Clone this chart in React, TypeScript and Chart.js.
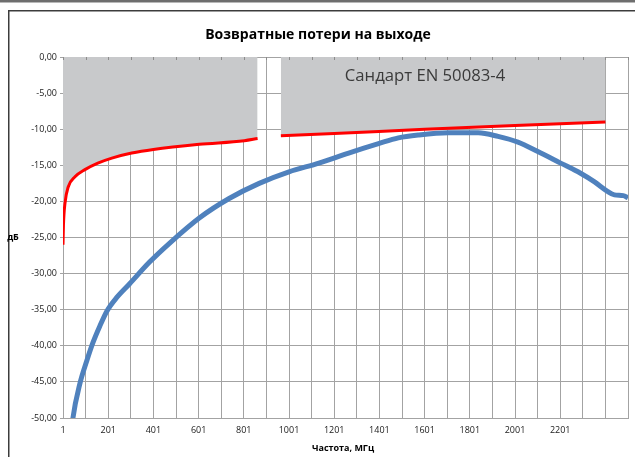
import React, { useEffect, useRef } from "react";
import { Chart, registerables } from "chart.js";

Chart.register(...registerables);

// Measured return loss (blue)
const blueX = [35, 45, 76, 107, 133, 165, 195, 239, 296, 384, 472, 604, 736, 869, 1001, 1133, 1265, 1397, 1485, 1574, 1706, 1838, 1926, 2014, 2102, 2203, 2291, 2353, 2410, 2441, 2480, 2501];
const blueY = [-53, -50, -45.2, -42, -39.6, -37.2, -35.2, -33.3, -31.4, -28.4, -25.8, -22.3, -19.6, -17.5, -15.9, -14.7, -13.3, -12.0, -11.2, -10.8, -10.5, -10.5, -11.0, -11.8, -13.1, -14.7, -16.1, -17.3, -18.6, -19.1, -19.2, -19.5];

// Standard EN 50083-4 limit, first segment (red)
const red1X = [1, 3, 10, 24, 54, 98, 155, 217, 305, 401, 604, 803, 862];
const red1Y = [-26, -23.3, -20.2, -18.0, -16.6, -15.6, -14.7, -14.0, -13.3, -12.8, -12.1, -11.6, -11.3];

// Standard EN 50083-4 limit, second segment (red)
const red2X = [965, 1201, 1601, 2001, 2401];
const red2Y = [-10.9, -10.6, -10.0, -9.5, -9.0];

// Axis ticks
const xGridValues = [1, 101, 201, 301, 401, 501, 601, 701, 801, 901, 1001, 1101, 1201, 1301, 1401, 1501, 1601, 1701, 1801, 1901, 2001, 2101, 2201, 2301, 2401, 2501];
const xLabelValues = [1, 201, 401, 601, 801, 1001, 1201, 1401, 1601, 1801, 2001, 2201];
const yTickValues = [0, -5, -10, -15, -20, -25, -30, -35, -40, -45, -50];

const titleText = "Возвратные потери на выходе";
const xTitle = "Частота, МГц";
const yTitle = "дБ";
const noteText = "Сандарт EN 50083-4";

const FONT = "'Open Sans', 'DejaVu Sans', sans-serif";
const GRAY_FILL = "#c8c9cb";
const GRID = "#a3a3a3";

const pts = (xs: number[], ys: number[]) => xs.map((x, i) => ({ x, y: ys[i] }));

const decorPlugin = {
  id: "decor",
  beforeDraw(chart: any) {
    const ctx = chart.ctx;
    ctx.save();
    ctx.fillStyle = "#ffffff";
    ctx.fillRect(0, 0, chart.width, chart.height);
    // top strip
    ctx.fillStyle = "#6e6e6e";
    ctx.fillRect(0, 0, chart.width, 2);
    ctx.fillStyle = "#b8b8b8";
    ctx.fillRect(0, 2, chart.width, 1);
    // chart area frame
    ctx.fillStyle = "#3c3c3c";
    ctx.fillRect(8, 10, chart.width - 8, 1.5);
    ctx.fillRect(8, 10, 1.5, chart.height - 10);
    ctx.restore();
  },
  afterDatasetsDraw(chart: any) {
    const ctx = chart.ctx;
    const xs = chart.scales.x;
    const top = chart.chartArea.top;
    ctx.save();
    // small tick marks along the top edge
    ctx.strokeStyle = "#8c8c8c";
    ctx.lineWidth = 1;
    ctx.beginPath();
    xGridValues.forEach((v) => {
      const px = Math.round(xs.getPixelForValue(v)) + 0.5;
      ctx.moveTo(px, top);
      ctx.lineTo(px, top + 3);
    });
    ctx.stroke();
    ctx.textAlign = "center";
    ctx.textBaseline = "middle";
    ctx.fillStyle = "#3a3a3a";
    ctx.font = `16.7px ${FONT}`;
    ctx.fillText(noteText, 425, 76);
    ctx.restore();
  },
  afterDraw(chart: any) {
    const ctx = chart.ctx;
    ctx.save();
    ctx.textAlign = "center";
    ctx.textBaseline = "middle";
    ctx.fillStyle = "#000000";
    ctx.font = `bold 14px ${FONT}`;
    ctx.fillText(titleText, 318, 35);
    ctx.font = `bold 9px ${FONT}`;
    ctx.fillText(xTitle, 343, 448);
    ctx.fillText(yTitle, 13, 237);
    ctx.restore();
  },
};

export default function App() {
  const ref = useRef<HTMLCanvasElement | null>(null);

  useEffect(() => {
    if (!ref.current) return;
    const chart = new Chart(ref.current, {
      type: "line",
      data: {
        datasets: [
          {
            label: "limit1",
            data: pts(red1X, red1Y),
            borderColor: "#ff0000",
            borderWidth: 3,
            pointRadius: 0,
            cubicInterpolationMode: "monotone",
            fill: { value: 0 },
            backgroundColor: GRAY_FILL,
            order: 2,
          },
          {
            label: "limit2",
            data: pts(red2X, red2Y),
            borderColor: "#ff0000",
            borderWidth: 3,
            pointRadius: 0,
            cubicInterpolationMode: "monotone",
            fill: { value: 0 },
            backgroundColor: GRAY_FILL,
            order: 2,
          },
          {
            label: "measured",
            data: pts(blueX, blueY),
            borderColor: "#4f81bd",
            borderWidth: 5,
            pointRadius: 0,
            cubicInterpolationMode: "monotone",
            fill: false,
            order: 1,
          },
        ],
      },
      options: {
        animation: false,
        responsive: false,
        maintainAspectRatio: false,
        layout: { padding: { left: 0, top: 57, right: 5, bottom: 0 } },
        plugins: {
          legend: { display: false },
          tooltip: { enabled: false },
          title: { display: false },
        },
        scales: {
          x: {
            type: "linear",
            min: 1,
            max: 2501,
            afterBuildTicks: (s: any) => {
              s.ticks = xGridValues.map((v) => ({ value: v }));
            },
            afterFit: (s: any) => {
              s.height = 39;
            },
            grid: { color: GRID, lineWidth: 1, drawTicks: false },
            border: { color: GRID, width: 1 },
            ticks: {
              autoSkip: false,
              maxRotation: 0,
              padding: 7,
              color: "#1a1a1a",
              font: { family: FONT, size: 9 },
              callback: (v: any) => (xLabelValues.includes(Number(v)) ? String(v) : ""),
            },
          },
          y: {
            type: "linear",
            min: -50,
            max: 0,
            afterBuildTicks: (s: any) => {
              s.ticks = yTickValues.map((v) => ({ value: v }));
            },
            afterFit: (s: any) => {
              s.width = 63;
            },
            grid: { color: GRID, lineWidth: 1, tickLength: 3 },
            border: { color: GRID, width: 1 },
            ticks: {
              padding: 3,
              color: "#1a1a1a",
              font: { family: FONT, size: 9 },
              callback: (v: any) => Number(v).toFixed(2).replace(".", ","),
            },
          },
        },
      },
      plugins: [decorPlugin],
    });
    return () => chart.destroy();
  }, []);

  return (
    <div style={{ position: "fixed", left: 0, top: 0, width: 635, height: 457 }}>
      <canvas ref={ref} width={635} height={457} style={{ display: "block", width: 635, height: 457 }} />
    </div>
  );
}
